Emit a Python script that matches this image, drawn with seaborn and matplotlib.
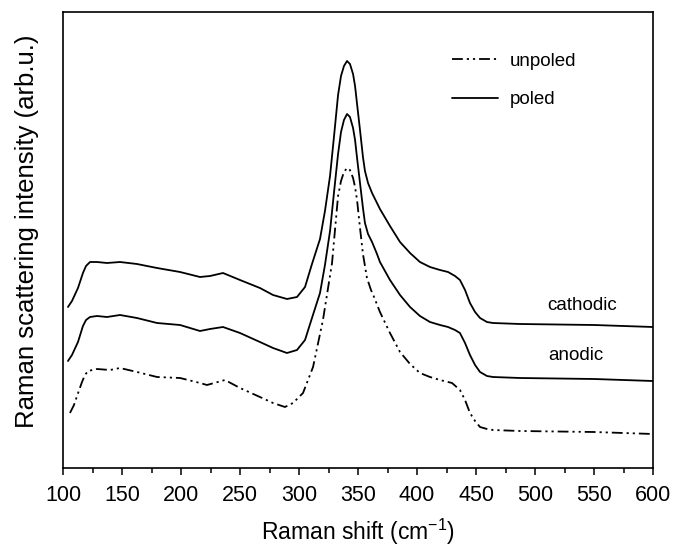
import matplotlib
matplotlib.use("Agg")
import matplotlib.pyplot as plt
import seaborn as sns
import pandas as pd
from matplotlib.lines import Line2D

# Raman shift (cm^-1) and intensity (arb. u.)
cath_x = [104.2, 107.6, 112.7, 116.9, 119.5, 122.9, 128.8, 137.3, 148.3, 162.7, 179.7,
          199.2, 216.1, 224.6, 235.6, 250, 266.9, 278, 289.8, 298.3,
          305.1, 311.0, 317.8, 322.0, 326.3, 329.7, 333.1, 335.6, 338.1, 340.7, 343.2,
          345.8, 347.5, 349.2, 351.7, 354.2, 355.9, 358.5, 361.9, 366.1, 368.6, 377.1,
          385.6, 394.1, 402.5, 411.0, 419.5, 426.3, 432.2, 436.4, 440.7, 444.9, 449.2,
          453.4, 459.3, 464.4, 487.3, 550, 600]
cath_y = [161, 167, 180, 195, 202, 206, 206, 205, 206, 204, 200,
          196, 191, 192, 195, 188, 180, 173, 169, 171,
          181, 204, 229, 257, 292, 332, 373, 392, 402, 407, 404,
          394, 382, 364, 338, 311, 297, 285, 275, 265, 259, 242,
          226, 215, 206, 201, 198, 196, 192, 188, 178, 165, 156,
          150, 146, 145, 144, 143, 141]

anod_x = [104.2, 107.6, 112.7, 116.9, 119.5, 122.9, 128.8, 137.3, 148.3, 162.7, 179.7,
          199.2, 216.1, 224.6, 235.6, 250, 266.9, 278, 289.8, 298.3,
          305.1, 311.0, 317.8, 322.0, 326.3, 329.7, 333.1, 335.6, 338.1, 340.7, 343.2,
          345.8, 347.5, 349.2, 351.7, 354.2, 355.9, 358.5, 361.9, 366.1, 368.6, 377.1,
          385.6, 394.1, 402.5, 411.0, 419.5, 426.3, 432.2, 436.4, 440.7, 444.9, 449.2,
          453.4, 459.3, 464.4, 487.3, 550, 600]
anod_y = [107, 113, 126, 142, 148, 151, 152, 151, 153, 150, 145,
          143, 137, 139, 141, 135, 126, 120, 115, 118,
          128, 150, 175, 203, 237, 276, 314, 336, 348, 354, 351,
          340, 328, 310, 285, 260, 245, 234, 226, 214, 206, 188,
          173, 161, 152, 146, 143, 141, 138, 135, 125, 113, 103,
          96, 92, 91, 90, 89, 87]

unp_x = [105.9, 109.3, 111.9, 116.1, 118.6, 121.2, 128.8, 139.8, 148.3, 162.7, 179.7,
         199.2, 216.1, 222, 237.3, 250, 266.9, 278, 288.1, 294.9,
         303.4, 311.9, 320.3, 328.0, 330.5, 333.1, 335.6, 338.1, 340.7, 343.2,
         345.8, 347.5, 349.2, 351.7, 354.2, 357.6, 361.0, 363.6, 368.6, 377.1, 385.6,
         394.1, 402.5, 411.0, 419.5, 429.7, 436.4, 440.7, 444.9, 449.2, 453.4, 459.3,
         464.4, 487.3, 550, 600]
unp_y = [55, 63, 72, 86, 93, 97, 99, 98, 100, 96, 91,
         90, 85, 83, 88, 80, 71, 65, 61, 65,
         75, 101, 148, 205, 238, 272, 287, 296, 300, 298,
         290, 281, 268, 240, 214, 190, 178, 171, 156, 135, 116,
         104, 95, 91, 88, 85, 78, 68, 55, 47, 41, 39,
         38, 37, 36, 34]

x_ticks = [100, 150, 200, 250, 300, 350, 400, 450, 500, 550, 600]
legend_labels = ["unpoled", "poled"]
curve_labels = ["cathodic", "anodic"]

sns.set_style("ticks")
plt.rcParams["font.family"] = ["Liberation Sans", "DejaVu Sans"]
plt.rcParams["mathtext.fontset"] = "custom"
plt.rcParams["mathtext.rm"] = "Liberation Sans"
plt.rcParams["text.color"] = "black"
plt.rcParams["axes.labelcolor"] = "black"
plt.rcParams["xtick.color"] = "black"
plt.rcParams["xtick.labelcolor"] = "black"

fig = plt.figure(figsize=(6.75, 5.47), dpi=100)
ax = fig.add_axes([63 / 675, 79 / 547, 590 / 675, 456 / 547])

dashdot2 = (0, (6, 2.2, 1.2, 2.2, 1.2, 2.2))
lw = 1.3

df_c = pd.DataFrame({"x": cath_x, "y": cath_y})
df_a = pd.DataFrame({"x": anod_x, "y": anod_y})
df_u = pd.DataFrame({"x": unp_x, "y": unp_y})
sns.lineplot(data=df_c, x="x", y="y", ax=ax, color="black", lw=lw, sort=False)
sns.lineplot(data=df_a, x="x", y="y", ax=ax, color="black", lw=lw, sort=False)
sns.lineplot(data=df_u, x="x", y="y", ax=ax, color="black", lw=lw, sort=False,
             linestyle=dashdot2)
for ln in ax.lines:
    ln.set_solid_joinstyle("round")
    ln.set_dash_joinstyle("round")

ax.set_xlim(100, 600)
ax.set_ylim(0, 456)
ax.set_xticks(x_ticks)
ax.set_xticks([t + 25 for t in x_ticks[:-1]], minor=True)
ax.set_yticks([])
ax.tick_params(axis="x", which="major", direction="out", length=5, width=1.1,
               labelsize=15.5, pad=7, colors="black")
ax.tick_params(axis="x", which="minor", direction="out", length=3.5, width=1.1,
               colors="black")
for s in ax.spines.values():
    s.set_linewidth(1.2)
    s.set_color("black")

ax.set_xlabel("Raman shift (cm$^{-1}$)", fontsize=16.5, labelpad=8, color="black")
ax.set_ylabel("Raman scattering intensity (arb.u.)", fontsize=18.5, color="black")
ax.yaxis.set_label_coords(-0.04, 0.52)

ax.text(540, 163, curve_labels[0], fontsize=13.5, ha="center", va="center", color="black")
ax.text(535, 113, curve_labels[1], fontsize=13.5, ha="center", va="center", color="black")

handles = [Line2D([0], [0], color="black", lw=lw, linestyle=dashdot2),
           Line2D([0], [0], color="black", lw=lw)]
leg = ax.legend(handles, legend_labels, frameon=False, fontsize=13.5,
                loc="upper left", bbox_to_anchor=(0.63, 0.948),
                handlelength=2.5, handletextpad=0.6, labelspacing=1.15)
for t in leg.get_texts():
    t.set_color("black")

fig.savefig("out.png", dpi=100)
